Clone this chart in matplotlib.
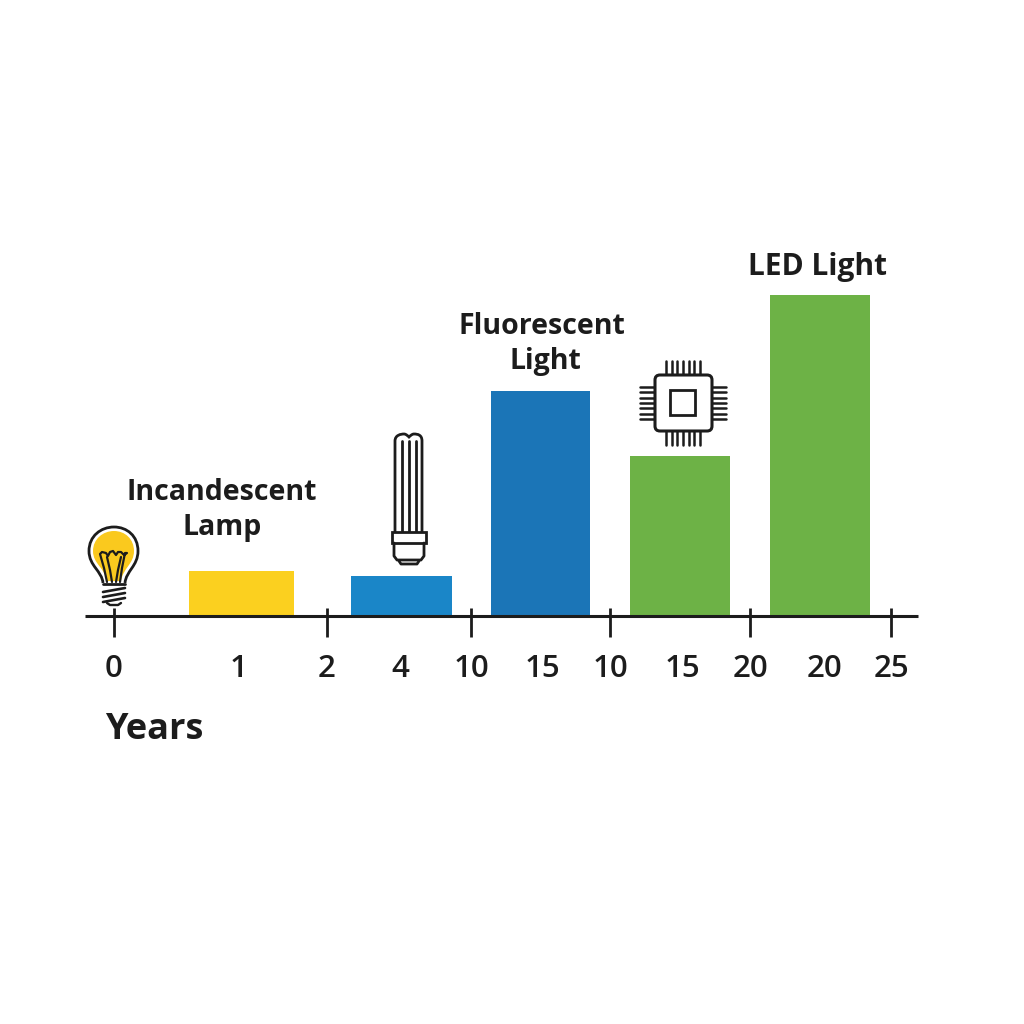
import matplotlib
matplotlib.use("Agg")
import matplotlib.pyplot as plt
from matplotlib.patches import FancyBboxPatch, PathPatch, Rectangle
from matplotlib.path import Path

# --- Data ---
bar_names = ["Incandescent", "CFL", "Fluorescent", "Chip LED", "LED"]
bar_lefts = [189, 351, 491, 630, 770]
bar_widths = [105, 101, 99, 100, 100]
bar_values = [45, 40, 225, 160, 321]
bar_colors = ["#FBD01F", "#1A86C8", "#1B75B7", "#6DB246", "#6DB246"]

tick_positions = [114, 327, 471, 610, 750, 891]
label_positions = [114, 239, 327, 400, 471, 542, 610, 682, 751, 825, 891]
tick_labels = ["0", "1", "2", "4", "10", "15", "10", "15", "20", "20", "25"]

INK = "#1C1C1C"
BASE = 616  # baseline row in the image
plt.rcParams["font.family"] = ["Open Sans", "DejaVu Sans"]


def py(row):
    # image row -> data y
    return BASE - row


def line(ax, xs, rows, lw=2.0):
    ax.plot(xs, [py(r) for r in rows], color=INK, lw=lw, solid_capstyle="round", zorder=5)


def curve(ax, points, codes, face="none", lw=2.0, z=5):
    verts = [(x, py(r)) for x, r in points]
    ax.add_patch(PathPatch(Path(verts, codes), facecolor=face, edgecolor=INK, lw=lw, zorder=z))


def draw_bulb(ax):
    M, C = Path.MOVETO, Path.CURVE4
    codes = [M, C, C, C, C, C, C, C, C, C, C, C, C]
    # outer glass
    pts = [(103, 583), (102, 571), (89, 566), (89, 551), (89, 536), (101, 527), (114, 527),
           (127, 527), (138, 536), (138, 551), (138, 566), (126, 571), (125, 583)]
    curve(ax, pts, codes, face="white", lw=2.0)
    # yellow fill
    pts = [(107, 581), (105, 568), (93, 564), (93, 551), (93, 539), (103, 531), (114, 531),
           (125, 531), (134, 539), (134, 551), (134, 564), (123, 568), (121, 581)]
    ax.add_patch(PathPatch(Path([(x, py(r)) for x, r in pts], codes),
                           facecolor="#FAC91E", edgecolor="none", zorder=5))
    # filament
    line(ax, [107, 104, 100, 102, 106, 108, 110, 113, 116, 118, 121, 124, 127, 125, 122, 120],
         [582, 568, 554, 552, 553, 556, 552, 551, 555, 552, 552, 555, 553, 553, 568, 582], lw=1.6)
    line(ax, [107, 110, 112], [557, 570, 582], lw=1.6)
    line(ax, [121, 118, 116], [557, 570, 582], lw=1.6)
    # screw base
    line(ax, [103, 125], [584, 584], lw=2.0)
    for row in [590, 595, 600]:
        line(ax, [103, 125], [row + 2, row - 2], lw=1.9)
    line(ax, [107, 110, 118, 121], [603, 605, 605, 603], lw=1.7)


def draw_tube(ax):
    M, L, C = Path.MOVETO, Path.LINETO, Path.CURVE4
    pts = [(395, 532), (395, 441), (395, 435), (401, 434), (404, 434), (406, 434), (408, 436), (409, 437),
           (410, 436), (412, 434), (414, 434), (418, 434), (422, 435), (422, 441), (422, 532)]
    curve(ax, pts, [M, L, C, C, C, C, C, C, C, C, C, C, C, C, L], lw=2.0)
    for x in [402, 409, 416]:
        line(ax, [x, x], [441, 532], lw=2.0)
    ax.add_patch(Rectangle((392, py(543)), 34, 11, fc="white", ec=INK, lw=2.0, zorder=5))
    line(ax, [394, 394, 397, 421, 424, 424], [543, 556, 560, 560, 556, 543], lw=2.0)
    line(ax, [399, 401, 417, 419], [561, 564, 564, 561], lw=2.0)


def draw_chip(ax):
    for i in range(7):
        x = 666 + i * 34 / 6
        line(ax, [x, x], [361, 375], lw=1.8)
        line(ax, [x, x], [431, 445], lw=1.8)
        row = 387 + i * 32 / 6
        line(ax, [640, 655], [row, row], lw=1.8)
        line(ax, [712, 726], [row, row], lw=1.8)
    ax.add_patch(FancyBboxPatch((659, py(427)), 49, 48, boxstyle="round,pad=4,rounding_size=5",
                                fc="white", ec=INK, lw=2.2, zorder=6))
    ax.add_patch(Rectangle((670, py(415)), 25, 25, fc="white", ec=INK, lw=2.0, zorder=7))


fig = plt.figure(figsize=(10.24, 10.24), dpi=100, facecolor="white")
ax = fig.add_axes([0, 0, 1, 1])
ax.set_xlim(0, 1024)
ax.set_ylim(BASE - 1024, BASE)
ax.axis("off")

ax.bar(bar_lefts, bar_values, width=bar_widths, align="edge", color=bar_colors, zorder=2)

# axis line and ticks
ax.plot([85, 918], [0, 0], color=INK, lw=2.2, solid_capstyle="butt", zorder=4)
for x in tick_positions:
    ax.plot([x, x], [py(608), py(637)], color=INK, lw=2.0, solid_capstyle="butt", zorder=4)

for x, label in zip(label_positions, tick_labels):
    ax.text(x, py(669), label, ha="center", va="center", fontsize=22.5, color=INK, weight=600)

ax.text(105, py(730), "Years", ha="left", va="center", fontsize=26, color=INK, weight="bold")

name_kw = dict(ha="center", va="center", fontsize=20.5, color=INK, weight="bold")
ax.text(222, py(492), "Incandescent", **name_kw)
ax.text(222, py(527), "Lamp", **name_kw)
ax.text(542, py(326), "Fluorescent", **name_kw)
ax.text(545, py(361), "Light", **name_kw)
ax.text(817, py(267), "LED Light", ha="center", va="center", fontsize=21.5, color=INK, weight="bold")

draw_bulb(ax)
draw_tube(ax)
draw_chip(ax)

fig.savefig("out.png", dpi=100, facecolor="white")
